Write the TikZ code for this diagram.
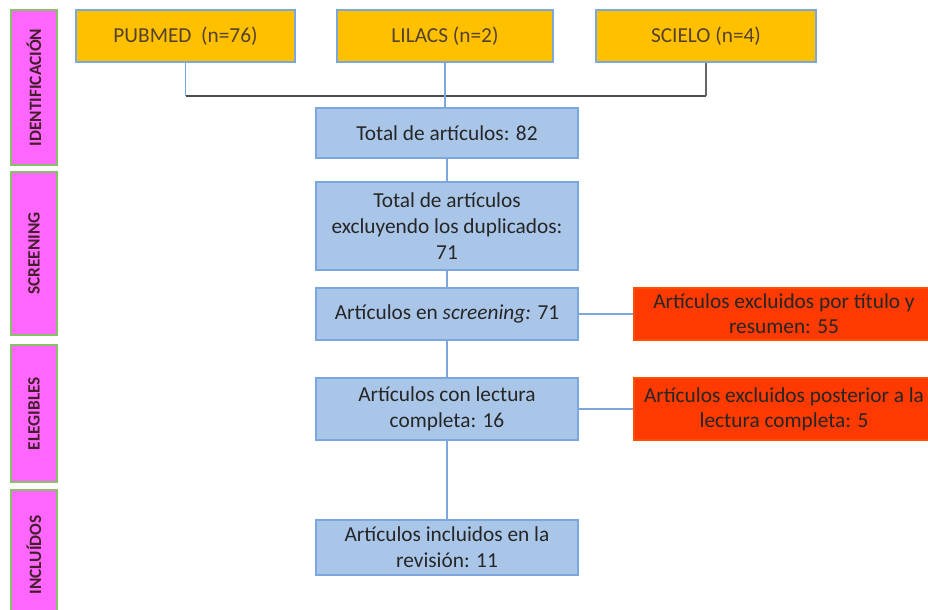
\documentclass[tikz,border=0pt]{standalone}
\usepackage{fontspec}
\setmainfont{Carlito}
\usepackage{tikz}

\definecolor{barpink}{HTML}{FF66FF}
\definecolor{bargreen}{HTML}{86C166}
\definecolor{srcyellow}{HTML}{FFC000}
\definecolor{boxblue}{HTML}{A9C6E9}
\definecolor{edgeblue}{HTML}{7BA7DE}
\definecolor{exclred}{HTML}{FF3A00}
\definecolor{textgray}{HTML}{262626}

\tikzset{
    etapa/.style={draw=bargreen, line width=2pt, fill=barpink, rotate=90,
        font=\fontsize{13}{15}\selectfont\bfseries, text=textgray!80!purple,
        minimum height=34.5pt, inner sep=0pt},
    fuente/.style={draw=edgeblue, line width=1.2pt, fill=srcyellow,
        minimum height=39pt, font=\fontsize{16}{19}\selectfont, text=textgray!70!brown},
    caja/.style={draw=edgeblue, line width=1.5pt, fill=boxblue, minimum width=196.5pt,
        align=center, inner sep=0pt, text=textgray,
        font=\fontsize{16}{19.5}\selectfont},
    excluido/.style={draw=exclred!70!orange, line width=0.8pt, fill=exclred,
        minimum width=225pt, align=center, inner sep=0pt, text=black!85,
        font=\fontsize{16}{19}\selectfont},
    enlace/.style={draw=edgeblue, line width=1.3pt},
}

\begin{document}
\begin{tikzpicture}[x=0.75pt, y=-0.75pt]

    \useasboundingbox (0,0) rectangle (928,610);

    % etapas
    \node[etapa, minimum width=116.25pt] (ident) at (34,87.5) {IDENTIFICACIÓN};
    \node[etapa, minimum width=122.25pt] (scr) at (34,253.5) {SCREENING};
    \node[etapa, minimum width=102.75pt] (eleg) at (34,413.5) {ELEGIBLES};
    \node[etapa, minimum width=97.5pt] (incl) at (34,555) {INCLUÍDOS};

    % bases de datos
    \node[fuente, minimum width=164.25pt] (pubmed) at (185.5,36) {PUBMED\ \ (n=76)};
    \node[fuente, minimum width=162pt] (lilacs) at (445,36) {LILACS (n=2)};
    \node[fuente, minimum width=165pt] (scielo) at (706,36) {SCIELO (n=4)};

    % diagrama de flujo
    \node[caja, minimum height=37.5pt] (total) at (447,133) {Total de artículos: 82};
    \node[caja, minimum height=66pt] (nodup) at (447,226)
        {Total de artículos\\excluyendo los duplicados:\\71};
    \node[caja, minimum height=39pt] (screen) at (447,314) {Artículos en \textit{screening:} 71};
    \node[caja, minimum height=46.5pt] (lectura) at (447,409) {Artículos con lectura\\completa: 16};
    \node[caja, minimum height=41.25pt] (final) at (447,547.5) {Artículos incluidos en la\\revisión: 11};

    \node[excluido, minimum height=39pt] (excl1) at (784,314) {Artículos excluidos por título y\\resumen: 55};
    \node[excluido, minimum height=46.5pt] (excl2) at (784,409) {Artículos excluidos posterior a la\\lectura completa: 5};

    \coordinate (hub) at (445,96);

    \draw[black!70, line width=0.9pt] (pubmed.south |- hub) -- (scielo.south |- hub);
    \draw[black!60, line width=0.9pt] (scielo.south) -- (scielo.south |- hub);
    \draw[enlace] (pubmed.south) -- (pubmed.south |- hub);
    \draw[enlace] (lilacs.south) -- (lilacs.south |- total.north);

    \draw[enlace] (total) -- (nodup);
    \draw[enlace] (nodup) -- (screen);
    \draw[enlace] (screen) -- (lectura);
    \draw[enlace] (lectura) -- (final);

    \draw[enlace] (screen.east) -- (excl1.west);
    \draw[enlace] (lectura.east) -- (excl2.west);

\end{tikzpicture}
\end{document}
